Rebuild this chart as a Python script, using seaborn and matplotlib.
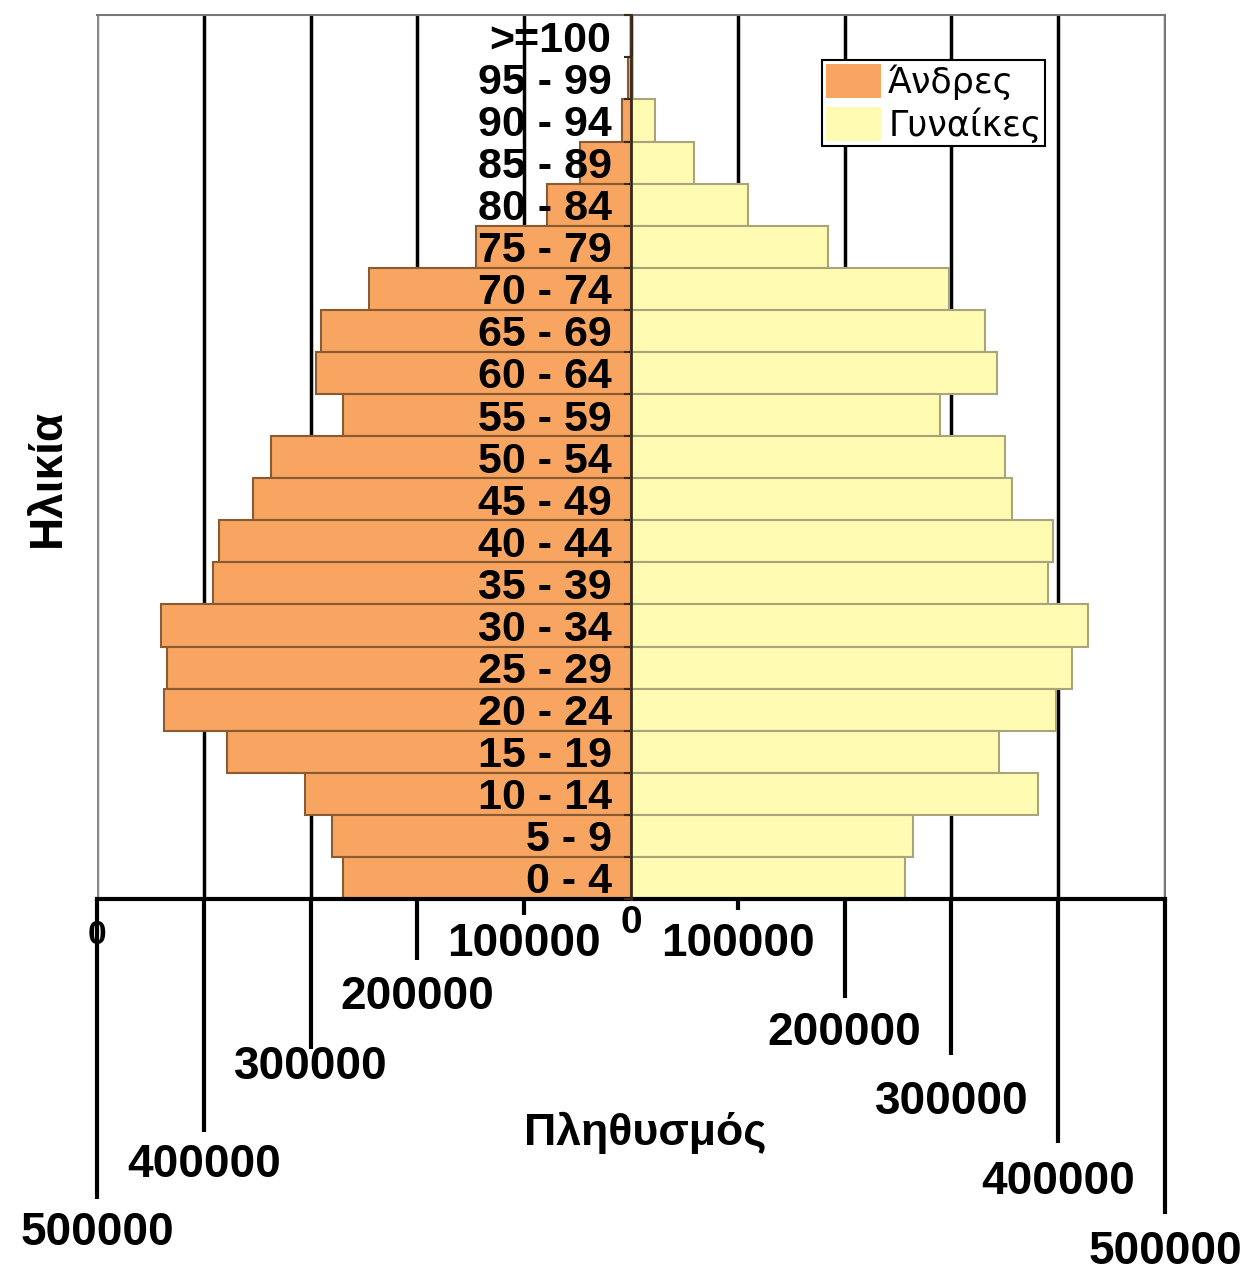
import numpy as np
import pandas as pd
import matplotlib
matplotlib.use("Agg")
import matplotlib.pyplot as plt
from matplotlib.patches import Patch
import seaborn as sns

# age groups, bottom to top
age_groups = ["0 - 4", "5 - 9", "10 - 14", "15 - 19", "20 - 24", "25 - 29",
              "30 - 34", "35 - 39", "40 - 44", "45 - 49", "50 - 54", "55 - 59",
              "60 - 64", "65 - 69", "70 - 74", "75 - 79", "80 - 84", "85 - 89",
              "90 - 94", "95 - 99", ">=100"]
men = [270000, 280000, 305000, 378000, 437000, 434000, 440000, 391000, 386000,
       354000, 337000, 270000, 295000, 290000, 245000, 145000, 79000, 48000,
       8000, 3000, 0]
women = [257000, 264000, 381000, 345000, 398000, 413000, 428000, 390000, 395000,
         357000, 350000, 289000, 343000, 331000, 298000, 184000, 110000, 59000,
         22500, 1000, 0]
sex_labels = ["Άνδρες", "Γυναίκες"]
tick_values = [-500000, -400000, -300000, -200000, -100000, 0,
               100000, 200000, 300000, 400000, 500000]
tick_labels = ["500000", "400000", "300000", "200000", "100000", "0",
               "100000", "200000", "300000", "400000", "500000"]

# staggered tick look (points)
tick_len = [216, 168, 108, 44, 11.5, 0, 8, 71, 112, 176, 227]
label_pad = [225, 176, 105, 55, 16.5, 4, 16.5, 81, 130, 188, 238]

colors = {"Άνδρες": "#F8A562", "Γυναίκες": "#FFFBB2"}
edges = {"Άνδρες": "#8a5a30", "Γυναίκες": "#a8a47c"}

df = pd.DataFrame({
    "age": age_groups * 2,
    "pop": [-v for v in men] + women,
    "sex": [sex_labels[0]] * len(men) + [sex_labels[1]] * len(women),
})

sns.set_style("white")
plt.rcParams["font.family"] = ["Liberation Sans", "DejaVu Sans"]
plt.rcParams["font.weight"] = "bold"
plt.rcParams["text.color"] = "black"
plt.rcParams["axes.labelcolor"] = "black"
plt.rcParams["xtick.color"] = "black"
plt.rcParams["ytick.color"] = "black"

fig, ax = plt.subplots(figsize=(12.5, 12.73), dpi=100)
fig.subplots_adjust(left=0.0776, right=0.932, top=0.988, bottom=0.2938)

sns.barplot(data=df, x="pop", y="age", hue="sex", order=age_groups[::-1],
            hue_order=sex_labels, palette=colors, saturation=1, dodge=False,
            width=1.0, orient="y", ax=ax, zorder=2)

for cont, name in zip(ax.containers, sex_labels):
    for bar in cont:
        bar.set_edgecolor(edges[name])
        bar.set_linewidth(1.5)

ax.set_xlim(-500000, 500000)
ax.set_ylim(len(age_groups) - 0.5, -0.5)

# grid behind bars, age labels in front
ax.set_axisbelow(True)
ax.xaxis.grid(True, color="black", linewidth=2.5)
ax.yaxis.set_zorder(5)

# spines
ax.spines["left"].set_position(("data", 0))
ax.spines["left"].set_color("#3a2a1a")
ax.spines["left"].set_linewidth(2)
ax.spines["left"].set_zorder(3)
ax.spines["bottom"].set_color("black")
ax.spines["bottom"].set_linewidth(3)
ax.spines["top"].set_color("#777777")
ax.spines["top"].set_linewidth(1.5)
ax.spines["right"].set_color("#777777")
ax.spines["right"].set_linewidth(1.5)

# y ticks: labels next to zero line, small ticks between groups
ax.set_yticks(np.arange(-0.5, len(age_groups), 1.0), minor=True)
ax.tick_params(axis="y", which="major", left=False, length=0, pad=14,
               labelsize=31)
ax.tick_params(axis="y", which="minor", left=True, length=5, width=1.5,
               color="#3a2a1a", direction="out")

# x ticks: hanging lines with staggered labels
ax.set_xticks(tick_values)
ax.set_xticklabels(tick_labels)
ax.tick_params(axis="x", bottom=True, length=0, width=3, color="black",
               labelsize=33)
for tick, ln, pd_ in zip(ax.xaxis.get_major_ticks(), tick_len, label_pad):
    tick.set_pad(pd_)
    tick.tick1line.set_visible(True)
    tick.tick1line.set_markersize(ln)
    tick.tick1line.set_markeredgewidth(3)
    tick.tick1line.set_clip_on(False)
ax.xaxis.get_major_ticks()[5].label1.set_fontsize(28)
ax.xaxis.get_gridlines()[0].set_color("#888888")
ax.xaxis.get_gridlines()[-1].set_color("#777777")

ax.annotate("0", xy=(tick_values[0], 0), xycoords=("data", "axes fraction"),
            xytext=(0, -15), textcoords="offset points",
            ha="center", va="top", fontsize=24)

ax.set_xlabel("Πληθυσμός", fontsize=32, fontweight="bold")
ax.xaxis.set_label_coords(0.513, -0.241)
ax.set_ylabel("Ηλικία", fontsize=33, fontweight="bold")
ax.yaxis.set_label_coords(-0.025, 0.476)

# legend
if ax.get_legend() is not None:
    ax.get_legend().remove()
handles = [Patch(facecolor=colors[s], edgecolor="none") for s in sex_labels]
leg = ax.legend(handles, sex_labels, loc="upper left",
                bbox_to_anchor=(0.679, 0.949), frameon=True, fancybox=False,
                framealpha=1, edgecolor="black",
                prop={"family": "DejaVu Sans", "size": 25, "weight": "normal"},
                handlelength=1.6, handleheight=1.15, handletextpad=0.2,
                labelspacing=0.2, borderpad=0.1, borderaxespad=0)
leg.get_frame().set_linewidth(1.5)

fig.savefig("out.png", dpi=100)
